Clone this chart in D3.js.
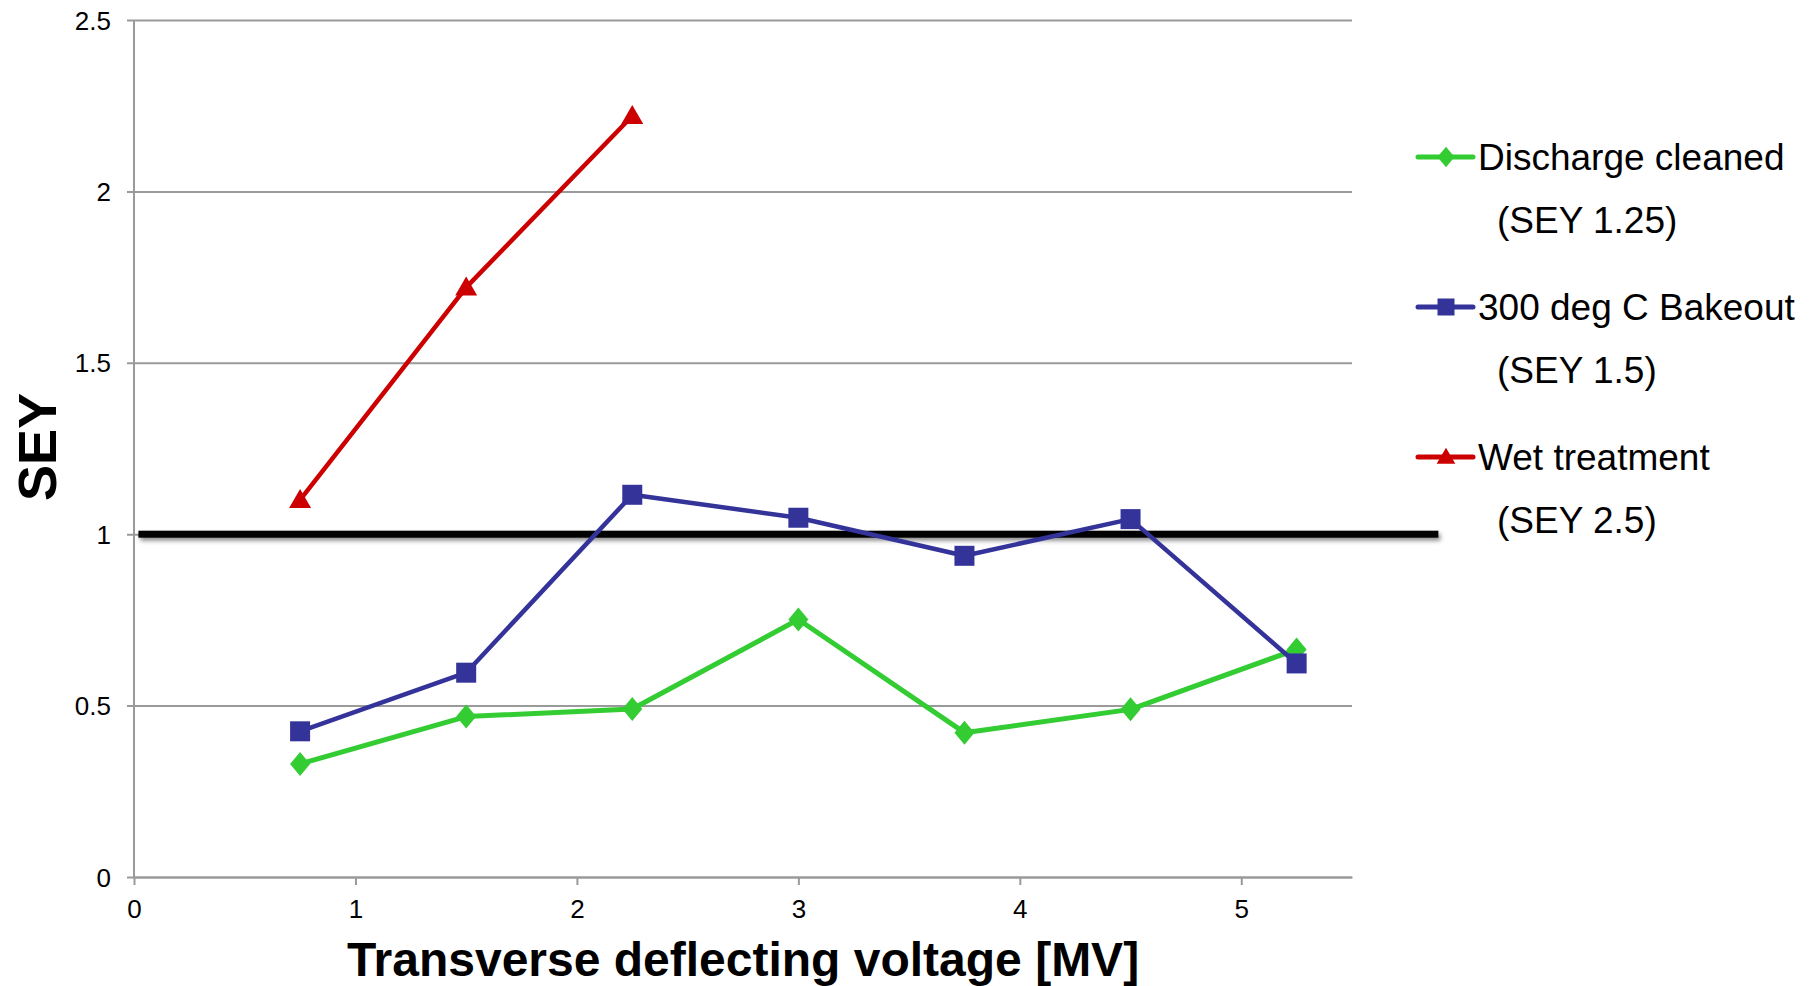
<!DOCTYPE html>
<html>
<head>
<meta charset="utf-8">
<script src="https://cdn.jsdelivr.net/npm/d3@7"></script>
<style>
  html, body { margin: 0; padding: 0; background: #fff; }
  svg { display: block; font-family: "Liberation Sans", Arial, sans-serif; }
  .tick-label { font-size: 26px; fill: #000; }
  .axis-title { font-size: 48px; font-weight: bold; fill: #000; }
  .legend-text { font-size: 37px; fill: #000; }
</style>
</head>
<body>
<svg id="chart" width="1810" height="986"></svg>
<script>
// data
const voltages = [0.75, 1.5, 2.25, 3, 3.75, 4.5, 5.25];
const dischargeCleaned = [0.33, 0.468, 0.49, 0.751, 0.421, 0.489, 0.664];
const bakeout300 = [0.425, 0.596, 1.115, 1.048, 0.937, 1.044, 0.623];
const wetTreatment = [1.10, 1.72, 2.22];
const seriesNames = ["Discharge cleaned", "300 deg C Bakeout", "Wet treatment"];
const seriesNotes = ["(SEY 1.25)", "(SEY 1.5)", "(SEY 2.5)"];
const xTicks = [0, 1, 2, 3, 4, 5];
const yTicks = [0, 0.5, 1, 1.5, 2, 2.5];
const thresholdValue = 1;
const thresholdSpan = [0.02, 5.89];

const series = [
    { name: seriesNames[0], note: seriesNotes[0], values: dischargeCleaned, color: "#33cc33", width: 5, symbol: "diamond" },
    { name: seriesNames[1], note: seriesNotes[1], values: bakeout300, color: "#333399", width: 4.5, symbol: "square" },
    { name: seriesNames[2], note: seriesNotes[2], values: wetTreatment, color: "#cc0000", width: 4.5, symbol: "triangle" }
];

const svg = d3.select("#chart");

const plot = { left: 134, right: 1352, top: 20, bottom: 877 };

const x = d3.scaleLinear().domain([0, 5.5]).range([plot.left, plot.right]);
const y = d3.scaleLinear().domain([0, 2.5]).range([plot.bottom, plot.top]);

// drop shadow for the SEY = 1 line
const defs = svg.append("defs");
defs.append("filter")
    .attr("id", "shadow")
    .attr("filterUnits", "userSpaceOnUse")
    .attr("x", 0).attr("y", 0)
    .attr("width", 1810).attr("height", 986)
    .append("feDropShadow")
    .attr("dx", 2).attr("dy", 3)
    .attr("stdDeviation", 2)
    .attr("flood-color", "#000")
    .attr("flood-opacity", 0.45);

// gridlines + y ticks
svg.append("g")
    .attr("transform", `translate(${plot.left},0)`)
    .call(d3.axisLeft(y).tickValues(yTicks)
        .tickSize(-(plot.right - plot.left))
        .tickSizeOuter(0)
        .tickFormat(d3.format("")))
    .call(g => g.select(".domain").remove())
    .call(g => g.selectAll(".tick line")
        .attr("x1", -7)
        .attr("stroke", "#9a9a9a")
        .attr("stroke-width", 2))
    .call(g => g.selectAll(".tick text")
        .attr("class", "tick-label")
        .attr("x", -23)
        .attr("dy", "0.35em"));

// y axis line
svg.append("line")
    .attr("x1", plot.left).attr("x2", plot.left)
    .attr("y1", plot.top).attr("y2", plot.bottom)
    .attr("stroke", "#9a9a9a")
    .attr("stroke-width", 2);

// x axis
svg.append("g")
    .attr("transform", `translate(0,${plot.bottom})`)
    .call(d3.axisBottom(x).tickValues(xTicks).tickSize(8).tickSizeOuter(0).tickFormat(d3.format("d")))
    .call(g => g.select(".domain")
        .attr("stroke", "#9a9a9a")
        .attr("stroke-width", 2))
    .call(g => g.selectAll(".tick line")
        .attr("stroke", "#9a9a9a")
        .attr("stroke-width", 2))
    .call(g => g.selectAll(".tick text")
        .attr("class", "tick-label")
        .attr("y", 41)
        .attr("dy", 0));

// threshold line at SEY = 1
svg.append("rect")
    .attr("x", x(thresholdSpan[0]))
    .attr("width", x(thresholdSpan[1]) - x(thresholdSpan[0]))
    .attr("y", y(thresholdValue) - 3.5)
    .attr("height", 7)
    .attr("fill", "#000")
    .attr("filter", "url(#shadow)");

function symbolPath(type) {
    if (type === "diamond") return "M0,-12L10,0L0,12L-10,0Z";
    if (type === "square") return "M-10,-10H10V10H-10Z";
    return "M0,-11L11,8H-11Z";
}

const line = d3.line()
    .x(d => x(d[0]))
    .y(d => y(d[1]));

series.forEach(s => {
    const pts = s.values.map((v, i) => [voltages[i], v]);
    svg.append("path")
        .datum(pts)
        .attr("d", line)
        .attr("fill", "none")
        .attr("stroke", s.color)
        .attr("stroke-width", s.width)
        .attr("stroke-linejoin", "round");

    svg.append("g")
        .selectAll("path")
        .data(pts)
        .join("path")
        .attr("transform", d => `translate(${x(d[0])},${y(d[1])})`)
        .attr("d", symbolPath(s.symbol))
        .attr("fill", s.color);
});

// legend
const legend = svg.append("g").attr("transform", "translate(1418,157)");
series.forEach((s, i) => {
    const g = legend.append("g").attr("transform", `translate(0,${i * 150})`);
    g.append("line")
        .attr("x1", 0).attr("x2", 55)
        .attr("stroke", s.color)
        .attr("stroke-width", 5)
        .attr("stroke-linecap", "round");
    g.append("path")
        .attr("transform", "translate(28,0) scale(0.85)")
        .attr("d", symbolPath(s.symbol))
        .attr("fill", s.color);
    g.append("text")
        .attr("class", "legend-text")
        .attr("x", 60)
        .attr("y", 13)
        .text(s.name);
    g.append("text")
        .attr("class", "legend-text")
        .attr("x", 79)
        .attr("y", 76)
        .text(s.note);
});

// axis titles
svg.append("text")
    .attr("class", "axis-title")
    .attr("x", (plot.left + plot.right) / 2)
    .attr("y", 976)
    .attr("text-anchor", "middle")
    .text("Transverse deflecting voltage [MV]");

svg.append("text")
    .attr("class", "axis-title")
    .style("font-size", "54px")
    .attr("transform", "translate(56,447) rotate(-90)")
    .attr("text-anchor", "middle")
    .text("SEY");
</script>
</body>
</html>
